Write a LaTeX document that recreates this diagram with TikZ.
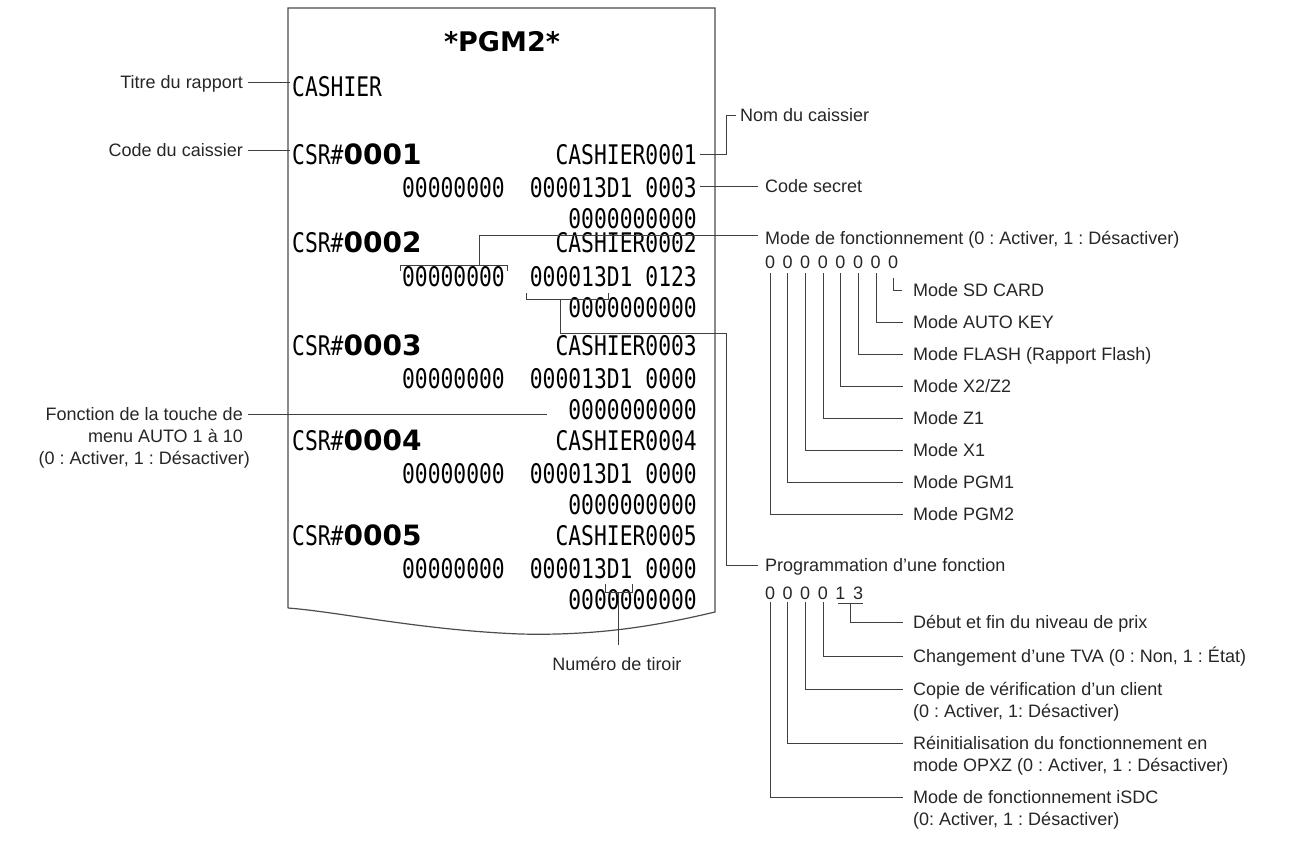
\documentclass[tikz,border=0pt]{standalone}
\usepackage{fontspec}
\setmainfont{Liberation Sans}
\newfontfamily\rmono{DejaVu Sans Mono}
\newfontfamily\rbold{DejaVu Sans}
\newcommand{\rc}[1]{\scalebox{0.79}[1]{\rmono\fontsize{27}{27}\selectfont #1}}
\newcommand{\rcsr}[1]{\scalebox{0.79}[1]{\rmono\fontsize{27}{27}\selectfont CSR\#}{\rbold\fontsize{28}{28}\selectfont\bfseries #1}}
\frenchspacing
\begin{document}
\frenchspacing
\begin{tikzpicture}[x=1pt,y=-1pt,
  lbl/.style={font=\fontsize{18}{21}\selectfont\frenchspacing, text=black!85, inner sep=0pt, anchor=base west},
  rt/.style={inner sep=0pt, anchor=base east},
  rl/.style={inner sep=0pt, anchor=base west},
  ln/.style={line width=1pt, black!75}]
\useasboundingbox (0,0) rectangle (1312,853);
% receipt
\draw[line width=1.2pt, black!70] (288,608) -- (288,8) -- (715,8) -- (715,612)
  .. controls (660,625) and (600,636) .. (520,634) .. controls (420,630) and (340,612) .. (288,608);
\node[inner sep=0pt] (pgm) at (502,42) {\rbold\fontsize{27}{27}\selectfont\bfseries *PGM2*};
\node[rl] (cashier) at (292,97) {\rc{CASHIER}};
% rows
\foreach \n/\y/\s in {1/165/0003,2/253/0123,3/355/0000,4/450/0000,5/545/0000}{
  \node[rl] (csr\n) at (292,\y) {\rcsr{000\n}};
  \node[rt] (nm\n) at (697,\y) {\rc{CASHIER000\n}};
  \node[rt] (a\n) at (505,\y+33) {\rc{00000000}};
  \node[rt] (b\n) at (697,\y+33) {\rc{000013D1 \s}};
  \node[rt] (c\n) at (697,\y+64) {\rc{0000000000}};
}
% left labels
\node[lbl, anchor=base east] (t1) at (243,89) {Titre du rapport};
\draw[ln] (248,83) -- (290,83);
\node[lbl, anchor=base east] (t2) at (243,157) {Code du caissier};
\draw[ln] (248,151) -- (290,151);
\node[lbl, anchor=base east] (t3) at (243,420) {Fonction de la touche de};
\node[lbl, anchor=base east] at (243,442) {menu AUTO 1 à 10};
\node[lbl, anchor=base east] at (250,464) {(0 : Activer, 1 : Désactiver)};
\draw[ln] (248,414) -- (547,414);
% right labels
\node[lbl] (nom) at (740,122) {Nom du caissier};
\draw[ln] (700,155) -- (726,155) -- (726,116) -- (736,116);
\node[lbl] (sec) at (765,193) {Code secret};
\draw[ln] (700,187) -- (758,187);
\node[lbl] (mode) at (765,244) {Mode de fonctionnement (0 : Activer, 1 : Désactiver)};
\draw[ln] (400,271) -- (400,265) -- (507,265) -- (507,271);
\draw[ln] (479,265) -- (479,236) -- (758,236);
\foreach \i in {0,...,7} \node[lbl, anchor=base] at (770+17.6*\i,269) {0};
\draw[ln] (893,278) -- (893,290) -- (902,290);
\foreach \i/\t [count=\k] in {876/{Mode AUTO KEY},858/{Mode FLASH (Rapport Flash)},840/{Mode X2/Z2},823/{Mode Z1},805/{Mode X1},787/{Mode PGM1},770/{Mode PGM2}}{
  \draw[ln] (\i,273) -- (\i,290+32*\k) -- (903,290+32*\k);
  \node[lbl] at (913,296+32*\k) {\t};
}
\node[lbl] at (913,296) {Mode SD CARD};
% programmation
\draw[ln] (526,293) -- (526,299) -- (608,299) -- (608,293);
\draw[ln] (560,299) -- (560,333) -- (726,333) -- (726,565) -- (758,565);
\node[lbl] (prog) at (765,571) {Programmation d'une fonction};
\foreach \d [count=\k] in {0,0,0,0,1,3} \node[lbl, anchor=base] at (770+17.6*\k-17.6,599) {\d};
\draw[ln] (838,603) -- (863,603); \draw[ln] (850,603) -- (850,622) -- (903,622);
\node[lbl] at (913,628) {Début et fin du niveau de prix};
\draw[ln] (823,602) -- (823,656) -- (903,656);
\node[lbl] at (913,662) {Changement d'une TVA (0 : Non, 1 : État)};
\draw[ln] (805,602) -- (805,689) -- (903,689);
\node[lbl] at (913,695) {Copie de vérification d'un client};
\node[lbl] at (913,717) {(0 : Activer, 1: Désactiver)};
\draw[ln] (787,602) -- (787,743) -- (903,743);
\node[lbl] at (913,749) {Réinitialisation du fonctionnement en};
\node[lbl] at (913,771) {mode OPXZ (0 : Activer, 1 : Désactiver)};
\draw[ln] (770,602) -- (770,797) -- (903,797);
\node[lbl] at (913,803) {Mode de fonctionnement iSDC};
\node[lbl] at (913,825) {(0: Activer, 1 : Désactiver)};
% tiroir
\draw[ln] (605,584) -- (605,592) -- (632,592) -- (632,584);
\draw[ln] (618,592) -- (618,645);
\node[lbl, anchor=base] (tir) at (617,670) {Numéro de tiroir};
\end{tikzpicture}
\end{document}
